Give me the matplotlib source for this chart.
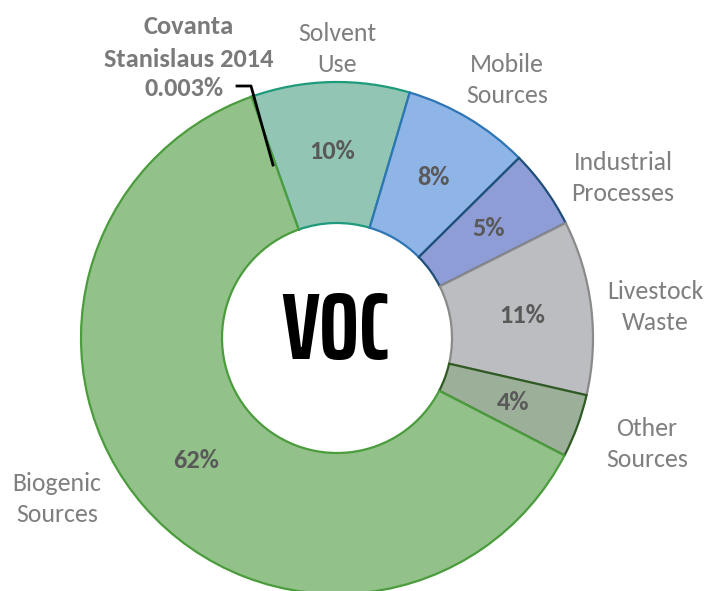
import matplotlib
matplotlib.use("Agg")
import matplotlib.pyplot as plt
import numpy as np

categories = ["Covanta\nStanislaus 2014", "Solvent\nUse", "Mobile\nSources", "Industrial\nProcesses",
              "Livestock\nWaste", "Other\nSources", "Biogenic\nSources"]
values = [0.003, 10, 8, 5, 11, 4, 62]
pct_labels = ["0.003%", "10%", "8%", "5%", "11%", "4%", "62%"]
fill_colors = ["#000000", "#93c5b4", "#8fb4e6", "#8e9dd6", "#bcbdc0", "#9caf99", "#92c28a"]
edge_colors = ["#000000", "#1e9a7c", "#2e75b6", "#1f4e79", "#8a8a8a", "#2f5a24", "#4b9c3c"]

W, H = 707, 591
fig = plt.figure(figsize=(W / 100, H / 100), dpi=100)
ax = fig.add_axes([0, 0, 1, 1])

cx, cy = 337, H - 338
R, r_in = 256, 115
wedges, _ = ax.pie(values, colors=fill_colors, startangle=109.5, counterclock=False,
                   radius=R, center=(cx, cy), frame=True,
                   wedgeprops=dict(width=R - r_in, linewidth=1.6))
ax.set_xlim(0, W)
ax.set_ylim(0, H)
ax.axis("off")
for w, ec in zip(wedges, edge_colors):
    w.set_edgecolor(ec)

pct_color = "#595959"
font = ["Carlito", "DejaVu Sans"]
mid_r = 187
for w, lab in list(zip(wedges, pct_labels))[1:]:
    ang = np.deg2rad((w.theta1 + w.theta2) / 2)
    ax.text(cx + mid_r * np.cos(ang), cy + mid_r * np.sin(ang), lab, ha="center", va="center",
            fontsize=19, fontweight="bold", color=pct_color, family=font)

# category labels
lab_color = "#7f7f7f"
cat_pos = {1: (337, 49), 2: (507, 80), 3: (623, 178), 4: (655, 307), 5: (647, 444), 6: (57, 499)}
for i, (x, y) in cat_pos.items():
    ax.text(x, H - y, categories[i], ha="center", va="center", fontsize=18.5, color=lab_color,
            family=font, linespacing=1.45)

# Covanta label
cov_color = "#7a7a7a"
ax.text(189, H - 43, categories[0], ha="center", va="center", fontsize=19, fontweight="bold",
        color=cov_color, family=font, linespacing=1.53)
ax.text(184, H - 88, pct_labels[0], ha="center", va="center", fontsize=19, fontweight="bold",
        color=cov_color, family=font)
ax.plot([237, 251, 273], [H - 86, H - 86, H - 165], color="black", lw=2)

# center title
ax.text(cx - 2, H - 333, "VOC", ha="center", va="center", fontsize=68, fontweight="bold",
        color="black", family=["Saira ExtraCondensed", "DejaVu Sans"])

fig.savefig("out.png", dpi=100)
